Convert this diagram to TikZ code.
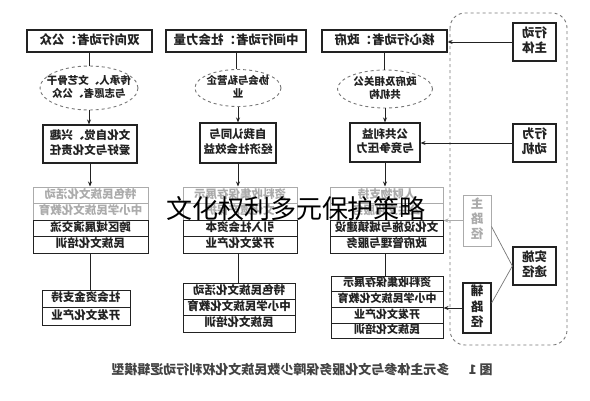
\documentclass[tikz,border=0pt]{standalone}
\usepackage{fontspec}
\setmainfont{Noto Sans CJK SC}
\usetikzlibrary{shapes.geometric,arrows.meta}
\definecolor{ink}{HTML}{222222}
\definecolor{lite}{HTML}{ABABAB}
\definecolor{dashc}{HTML}{777777}
\newcommand{\mir}[1]{\reflectbox{\begin{tabular}{@{}c@{}}#1\end{tabular}}}
\begin{document}
\begin{tikzpicture}[x=1pt,y=-1pt,
  hdr/.style={draw=ink, line width=1.3pt, minimum height=22pt, inner sep=0pt, text=ink, font=\bfseries\fontsize{12.5}{14}\selectfont},
  tb/.style={draw=ink, line width=1.1pt, inner sep=0pt, text=ink, font=\bfseries\fontsize{11.5}{14.5}\selectfont},
  rw/.style={draw=ink, line width=1pt, inner sep=0pt, minimum height=16.5pt, text=ink, font=\bfseries\fontsize{11.5}{13}\selectfont},
  grw/.style={rw, draw=lite, text=lite},
  el/.style={ellipse, draw=dashc, dashed, line width=0.9pt, inner sep=0pt},
  eltx/.style={inner sep=0pt, text=ink, font=\bfseries\fontsize{10.5}{13}\selectfont},
  rt/.style={draw=ink, line width=1.3pt, inner sep=0pt, minimum width=43pt, text=ink, font=\bfseries\fontsize{12.5}{15}\selectfont},
  grt/.style={rt, draw=lite, text=lite, line width=1pt, minimum width=28pt},
  ln/.style={draw=ink, line width=1pt},
  ar/.style={ln, -{Stealth[length=5pt,width=4pt]}},
  gar/.style={draw=lite, line width=1pt, -{Stealth[length=5pt,width=4pt]}},
  thinl/.style={draw=dashc, line width=0.7pt}
]
\fill[white] (0,0) rectangle (590,400);
\useasboundingbox (0,0) rectangle (590,400);

% headers
\node[hdr, minimum width=125pt] (H1) at (89.5,41) {\mir{双向行动者：公众}};
\node[hdr, minimum width=140pt] (H2) at (236,41) {\mir{中间行动者：社会力量}};
\node[hdr, minimum width=125pt] (H3) at (384.5,41) {\mir{核心行动者：政府}};

% ellipses
\node[el, minimum width=98pt, minimum height=44pt] (E1) at (89,88) {};
\node[eltx] (T1) at (E1) {\mir{传承人、文艺骨干\\与志愿者、公众}};
\node[el, minimum width=86pt, minimum height=37pt] (E2) at (238,88) {};
\node[eltx] (T2) at (E2) {\mir{协会与私营企\\业}};
\node[el, minimum width=95pt, minimum height=38pt] (E3) at (385,89) {};
\node[eltx] (T3) at (E3) {\mir{政府及相关公\\共机构}};

% motive boxes
\node[tb, minimum width=94pt, minimum height=38pt] (B1) at (90,144) {\mir{文化自觉、兴趣\\爱好与文化责任}};
\node[tb, minimum width=76pt, minimum height=40pt] (B2) at (238,143) {\mir{自我认同与\\经济社会效益}};
\node[tb, minimum width=70pt, minimum height=39pt] (B3) at (385,142.5) {\mir{公共利益\\与竞争压力}};

% main path stacks
\node[grw, minimum width=115pt] (S1a) at (90.5,195.25) {\mir{特色民族文化活动}};
\node[grw, minimum width=115pt] (S1b) at (90.5,211.75) {\mir{中小学民族文化教育}};
\node[rw, minimum width=115pt] (S1c) at (90.5,228.25) {\mir{跨区域展演交流}};
\node[rw, minimum width=115pt] (S1d) at (90.5,244.75) {\mir{民族文化培训}};

\node[grw, minimum width=114pt] (S2a) at (240,195.25) {\mir{资料收集保存展示}};
\node[grw, minimum width=114pt] (S2b) at (240,211.75) {\mir{文化遗产保护}};
\node[rw, minimum width=114pt] (S2c) at (240,228.25) {\mir{引入社会资本}};
\node[rw, minimum width=114pt] (S2d) at (240,244.75) {\mir{开发文化产业}};

\node[grw, minimum width=113pt] (S3a) at (386.5,195.25) {\mir{人财物支持}};
\node[grw, minimum width=113pt] (S3b) at (386.5,211.75) {\mir{公共文化服务}};
\node[rw, minimum width=113pt] (S3c) at (386.5,228.25) {\mir{文化设施与城镇建设}};
\node[rw, minimum width=113pt] (S3d) at (386.5,244.75) {\mir{政府管理与服务}};

% auxiliary path stacks
\node[rw, minimum width=88pt, minimum height=17.5pt] (L1a) at (86,298.75) {\mir{社会资金支持}};
\node[rw, minimum width=88pt, minimum height=17.5pt] (L1b) at (86,316.25) {\mir{开发文化产业}};

\node[rw, minimum width=112pt, minimum height=16.33pt] (L2a) at (239,291.17) {\mir{特色民族文化活动}};
\node[rw, minimum width=112pt, minimum height=16.33pt] (L2b) at (239,307.5) {\mir{中小学民族文化教育}};
\node[rw, minimum width=112pt, minimum height=16.33pt] (L2c) at (239,323.83) {\mir{民族文化培训}};

\node[rw, minimum width=112pt, minimum height=15.75pt, font=\bfseries\fontsize{11}{13}\selectfont] (L3a) at (387,283.9) {\mir{资料收集保存展示}};
\node[rw, minimum width=112pt, minimum height=15.75pt, font=\bfseries\fontsize{11}{13}\selectfont] (L3b) at (387,299.6) {\mir{中小学民族文化教育}};
\node[rw, minimum width=112pt, minimum height=15.75pt, font=\bfseries\fontsize{11}{13}\selectfont] (L3c) at (387,315.4) {\mir{开发文化产业}};
\node[rw, minimum width=112pt, minimum height=15.75pt, font=\bfseries\fontsize{11}{13}\selectfont] (L3d) at (387,331.1) {\mir{民族文化培训}};

% right panel
\draw[dashc, dashed, rounded corners=15pt, line width=0.9pt] (450,13) rectangle (567,345);
\node[rt, minimum height=38pt] (R1) at (534.5,42) {\mir{行动\\主体}};
\node[rt, minimum height=38pt] (R2) at (534.5,143) {\mir{行为\\动机}};
\node[grt, minimum height=51pt] (R3) at (477,220.5) {\mir{主\\路\\径}};
\node[rt, minimum height=38pt] (R4) at (534.5,266) {\mir{实施\\途径}};
\node[grt, draw=ink, text=ink, line width=1.2pt, minimum height=50pt] (R5) at (477,308) {\mir{辅\\路\\径}};

% vertical connectors
\draw[ln] (H1.south) -- (H1.south |- E1.north);
\draw[ln] (H2.south) -- (H2.south |- E2.north);
\draw[ln] (H3.south) -- (H3.south |- E3.north);
\draw[ar] (E1.south) -- (E1.south |- B1.north);
\draw[ar] (E2.south) -- (E2.south |- B2.north);
\draw[ar] (E3.south) -- (E3.south |- B3.north);
\draw[ar] (B1.south) -- (B1.south |- S1a.north);
\draw[ar] (B2.south) -- (B2.south |- S2a.north);
\draw[ar] (B3.south) -- (B3.south |- S3a.north);
\draw[ln] (S1d.south) -- (S1d.south |- L1a.north);
\draw[ln] (B2.south |- S2d.south) -- (B2.south |- L2a.north);
\draw[ln] (B3.south |- S3d.south) -- (B3.south |- L3a.north);

% right panel connectors
\draw[ar] (R1.west) -- (R1.west -| H3.east);
\draw[ar] (R2.west) -- (R2.west -| B3.east);
\draw[gar] (R3.west) -- (R3.west -| S3c.east);
\draw[ar] (R5.west) -- (R5.west -| L3b.east);
\draw[thinl] (R4.west) -- ([yshift=-6pt]R3.east);
\draw[thinl] (R4.west) -- ([yshift=5pt]R5.east);

% caption
\node[font=\bfseries\fontsize{13}{15}\selectfont, text=ink!85] (cap) at (302,370) {\reflectbox{图 1\hspace{1.5em}多元主体参与文化服务保障少数民族文化权利行动逻辑模型}};

% overlay title
\node[font=\fontsize{26}{28}\selectfont, text=black, inner sep=0pt] (wm) at (296,209) {文化权利多元保护策略};
\end{tikzpicture}
\end{document}
